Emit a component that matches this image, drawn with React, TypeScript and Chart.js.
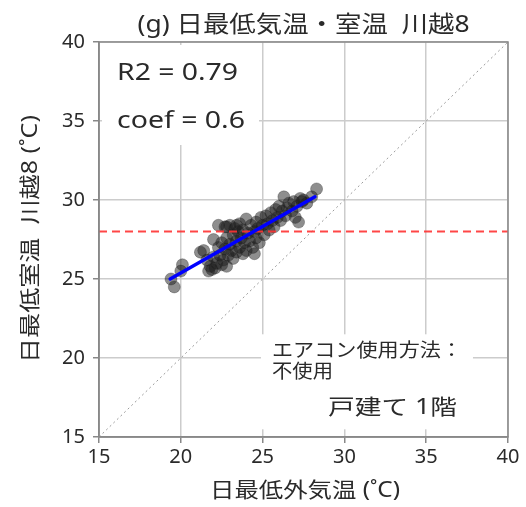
import React, { useEffect, useRef } from 'react';
import { Chart, registerables } from 'chart.js';
Chart.register(...registerables);

const outdoorMin = [
  19.4, 19.6, 20.1, 20.0, 21.4, 21.6, 21.7, 21.8, 21.9, 22.0, 22.0, 22.1, 22.2, 22.3, 22.3, 22.4,
  22.5, 22.5, 22.6, 22.7, 22.7, 22.8, 22.8, 22.9, 23.0, 23.0, 23.1, 23.2, 23.2, 23.3, 23.4, 23.4,
  23.5, 23.6, 23.6, 23.7, 23.8, 23.8, 23.9, 24.0, 24.0, 24.1, 24.2, 24.3, 24.4, 24.5, 24.6, 24.6,
  24.7, 24.8, 24.9, 25.0, 25.1, 25.2, 25.3, 25.4, 25.5, 25.6, 25.7, 25.8, 25.9, 26.0, 26.1, 26.2,
  26.3, 26.4, 26.5, 26.6, 26.8, 26.9, 27.0, 27.1, 27.2, 27.3, 27.4, 27.5, 27.7, 28.0, 28.3, 22.8,
  23.4, 21.2, 24.5,
];
const indoorMin = [
  25.0, 24.5, 25.9, 25.5, 26.8, 26.2, 25.5, 25.8, 25.6, 27.5, 26.4, 25.7, 26.0, 28.4, 27.0, 26.5,
  25.9, 27.3, 26.2, 28.3, 26.9, 27.6, 25.8, 26.5, 28.4, 27.2, 26.8, 27.8, 26.3, 28.2, 27.4, 26.7,
  28.0, 27.0, 28.5, 27.6, 26.6, 28.1, 27.3, 28.8, 26.8, 27.9, 27.4, 28.4, 27.0, 28.0, 27.6, 28.6,
  28.2, 27.3, 28.9, 28.4, 27.8, 29.0, 28.5, 28.1, 29.2, 28.7, 28.3, 29.4, 28.9, 29.6, 28.7, 29.3,
  30.2, 29.0, 29.5, 29.8, 29.3, 29.9, 28.9, 29.6, 28.6, 30.1, 29.9, 30.0, 29.8, 30.2, 30.7, 28.3,
  28.4, 26.7, 26.6,
];
const fitX = [19.35, 28.2];
const fitY = [25.0, 30.2];
const thresholdY = 28;
const axisMin = 15;
const axisMax = 40;
const tickStep = 5;

const titleText = '(g) 日最低気温・室温  川越8';
const xTitle = '日最低外気温 (˚C)';
const yTitle = '日最低室温  川越8 (˚C)';
const statLines = ['R2 = 0.79', 'coef = 0.6'];
const noteLines = ['エアコン使用方法：', '不使用'];
const houseText = '戸建て 1階';

const FONT = '"Noto Sans", "Noto Sans CJK JP", sans-serif';
const TEXT = '#2a2a2a';

function fitText(ctx: any, text: string, x: number, y: number, size: number, width: number, align: string) {
  ctx.font = `${size}px ${FONT}`;
  const w = ctx.measureText(text).width;
  const sx = width / w;
  ctx.save();
  ctx.translate(x, y);
  ctx.scale(sx, 1);
  ctx.textAlign = align;
  ctx.textBaseline = 'middle';
  ctx.fillText(text, 0, 0);
  ctx.restore();
}

const overlay = {
  id: 'overlay',
  beforeDatasetsDraw(chart: any) {
    const { ctx } = chart;
    const xs = chart.scales.x;
    const ys = chart.scales.y;
    ctx.save();
    ctx.fillStyle = '#ffffff';
    ctx.fillRect(xs.left + 3, ys.top + 3, 157, 100);
    ctx.fillRect(xs.getPixelForValue(24.9), ys.getPixelForValue(21.5), 212, 95);
    ctx.restore();
  },
  afterDatasetsDraw(chart: any) {
    const a = chart.chartArea;
    const c = chart.ctx;
    const xs = chart.scales.x;
    const ys = chart.scales.y;
    c.save();
    // regression line drawn above the points
    c.strokeStyle = '#0000ff';
    c.lineWidth = 3.5;
    c.lineCap = 'round';
    c.beginPath();
    c.moveTo(xs.getPixelForValue(fitX[0]), ys.getPixelForValue(fitY[0]));
    c.lineTo(xs.getPixelForValue(fitX[1]), ys.getPixelForValue(fitY[1]));
    c.stroke();
    c.strokeStyle = '#888888';
    c.lineWidth = 1.5;
    c.strokeRect(a.left, a.top, a.right - a.left, a.bottom - a.top);
    c.restore();
  },
  afterDraw(chart: any) {
    const { ctx } = chart;
    const a = chart.chartArea;
    ctx.save();
    ctx.fillStyle = TEXT;
    fitText(ctx, titleText, (a.left + a.right) / 2, 25, 23, 332, 'center');
    fitText(ctx, xTitle, 305, 491, 21, 190, 'center');
    ctx.save();
    ctx.translate(31, 239);
    ctx.rotate(-Math.PI / 2);
    fitText(ctx, yTitle, 0, 0, 21, 248, 'center');
    ctx.restore();
    fitText(ctx, statLines[0], 117, 73, 24, 121, 'left');
    fitText(ctx, statLines[1], 117, 121, 24, 128, 'left');
    fitText(ctx, noteLines[0], 272, 352, 19, 190, 'left');
    fitText(ctx, noteLines[1], 272, 373, 19, 61, 'left');
    fitText(ctx, houseText, 328, 408, 21, 129, 'left');
    ctx.restore();
  },
};

export default function App() {
  const ref = useRef<HTMLCanvasElement>(null);
  useEffect(() => {
    document.body.style.margin = '0';
    const points = outdoorMin.map((x, i) => ({ x, y: indoorMin[i] }));
    const chart = new Chart(ref.current as HTMLCanvasElement, {
      type: 'scatter',
      data: {
        datasets: [
          {
            label: 'diag',
            data: [{ x: axisMin, y: axisMin }, { x: axisMax, y: axisMax }],
            showLine: true,
            borderColor: '#9a9a9a',
            borderWidth: 1,
            borderDash: [2, 3],
            pointRadius: 0,
            order: 4,
          },
          {
            label: 'obs',
            data: points,
            backgroundColor: 'rgba(30,30,30,0.5)',
            borderColor: 'rgba(30,30,30,0.3)',
            borderWidth: 1,
            pointRadius: 6,
            order: 3,
          },
          {
            label: 'threshold',
            data: [{ x: axisMin, y: thresholdY }, { x: axisMax, y: thresholdY }],
            showLine: true,
            borderColor: 'rgba(255,50,50,0.9)',
            borderWidth: 2,
            borderDash: [8, 5],
            pointRadius: 0,
            order: 2,
          },
        ],
      },
      options: {
        responsive: false,
        animation: false,
        layout: { padding: { left: 0, top: 42, right: 18, bottom: 0 } },
        plugins: { legend: { display: false }, tooltip: { enabled: false } },
        scales: {
          x: {
            type: 'linear',
            min: axisMin,
            max: axisMax,
            afterFit: (s: any) => { s.height = 70; },
            ticks: { stepSize: tickStep, color: TEXT, font: { size: 20, family: FONT }, padding: 2, maxRotation: 0 },
            grid: { color: '#cccccc', lineWidth: 1.5, tickLength: 6, tickColor: '#888888' },
            border: { color: '#888888', width: 1.5 },
          },
          y: {
            type: 'linear',
            min: axisMin,
            max: axisMax,
            afterFit: (s: any) => { s.width = 99; },
            ticks: { stepSize: tickStep, color: TEXT, font: { size: 20, family: FONT }, padding: 8 },
            grid: { color: '#cccccc', lineWidth: 1.5, tickLength: 6, tickColor: '#888888' },
            border: { color: '#888888', width: 1.5 },
          },
        },
      },
      plugins: [overlay],
    } as any);
    return () => chart.destroy();
  }, []);
  return (
    <div style={{ position: 'absolute', left: 0, top: 0, width: 526, height: 507, background: '#fff' }}>
      <canvas ref={ref} width={526} height={507} style={{ display: 'block' }} />
    </div>
  );
}
